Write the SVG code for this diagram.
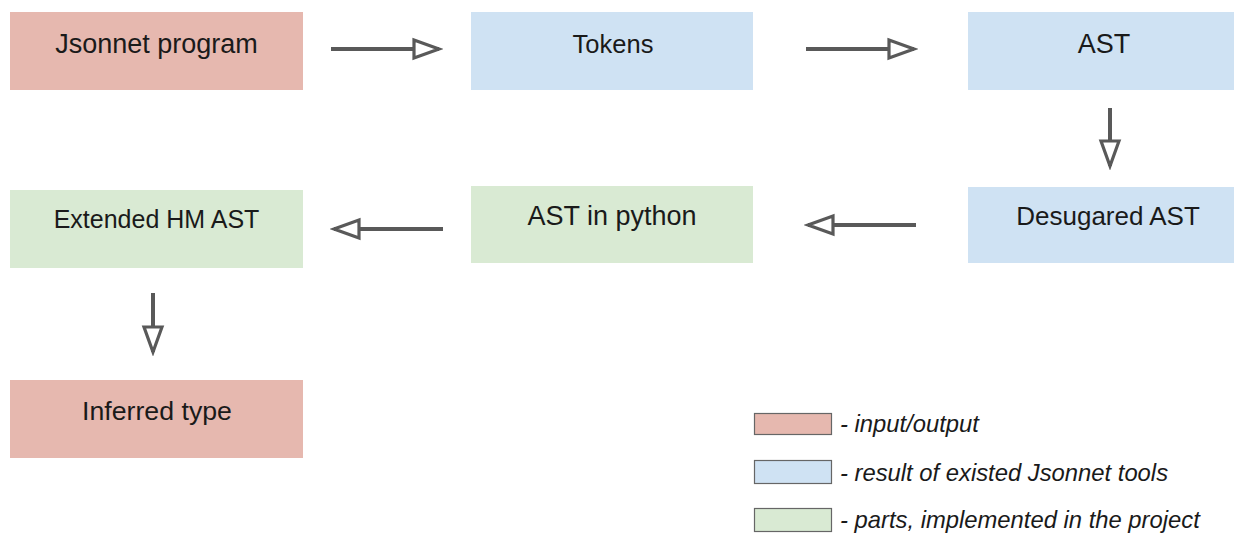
<svg xmlns="http://www.w3.org/2000/svg" width="1248" height="533" viewBox="0 0 1248 533">
<defs>
<style>
.io{fill:#e6b8af}
.ex{fill:#cfe2f3}
.pr{fill:#d9ead3}
.t{font-family:"Liberation Sans",Arial,sans-serif;font-size:26px;fill:#1a1a1a;text-anchor:middle}
.lg{font-family:"Liberation Sans",Arial,sans-serif;font-size:23.8px;font-style:italic;fill:#1a1a1a}
.sw{stroke:#666;stroke-width:1.2}
.c{stroke:#595959;stroke-width:4;fill:none;marker-end:url(#ah)}
</style>
<marker id="ah" markerUnits="userSpaceOnUse" markerWidth="32" markerHeight="26" viewBox="0 0 32 26" refX="28" refY="13" orient="auto">
<path d="M3,4 L28,13 L3,22 Z" fill="#fff" stroke="#595959" stroke-width="3.2" stroke-linejoin="miter"/>
</marker>
</defs>
<rect width="1248" height="533" fill="#fff"/>
<g id="connectors">
<line class="c" x1="331" y1="49" x2="439" y2="49"/>
<line class="c" x1="806" y1="49" x2="914" y2="49"/>
<line class="c" x1="1110" y1="108" x2="1110" y2="166"/>
<line class="c" x1="916" y1="225" x2="808" y2="225"/>
<line class="c" x1="443" y1="229" x2="334" y2="229"/>
<line class="c" x1="153" y1="293" x2="153" y2="352"/>
</g>
<g id="jsonnet-program"><rect class="io" x="10" y="12" width="293" height="78"/><text class="t" x="156.5" y="53" style="font-size:27px">Jsonnet program</text></g>
<g id="tokens"><rect class="ex" x="471" y="12" width="282" height="78"/><text class="t" x="613" y="53" style="font-size:25.5px">Tokens</text></g>
<g id="ast"><rect class="ex" x="968" y="12" width="266" height="78"/><text class="t" x="1104" y="53" style="font-size:27px">AST</text></g>
<g id="extended-hm-ast"><rect class="pr" x="10" y="190" width="293" height="78"/><text class="t" x="156.5" y="227.5" style="font-size:25px">Extended HM AST</text></g>
<g id="ast-in-python"><rect class="pr" x="471" y="186" width="282" height="77"/><text class="t" x="612" y="225" style="font-size:27px">AST in python</text></g>
<g id="desugared-ast"><rect class="ex" x="968" y="187" width="266" height="76"/><text class="t" x="1108" y="225">Desugared AST</text></g>
<g id="inferred-type"><rect class="io" x="10" y="380" width="293" height="78"/><text class="t" x="157" y="420" style="font-size:26.7px">Inferred type</text></g>
<g id="legend">
<rect class="io sw" x="754.5" y="413.5" width="77" height="21"/>
<text class="lg" x="840" y="432">- input/output</text>
<rect class="ex sw" x="754.5" y="460.5" width="77" height="23"/>
<text class="lg" x="840" y="481">- result of existed Jsonnet tools</text>
<rect class="pr sw" x="754.5" y="508.5" width="77" height="23"/>
<text class="lg" x="840" y="528">- parts, implemented in the project</text>
</g>
</svg>
